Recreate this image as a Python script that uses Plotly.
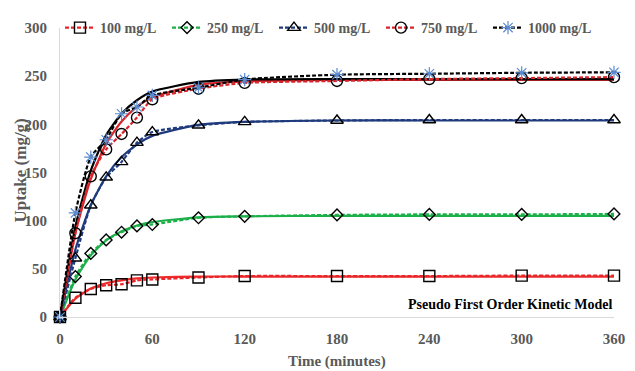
import plotly.graph_objects as go

time_min = [0, 10, 20, 30, 40, 50, 60, 90, 120, 180, 240, 300, 360]

# experimental uptake (mg/g)
exp_100 = [0, 20, 29, 33, 34, 38, 39, 41, 42.5, 42.5, 42.5, 43, 43]
exp_250 = [0, 42, 66, 80, 88, 94.5, 96, 103, 104.5, 106, 106.5, 106.5, 107]
exp_500 = [0, 61, 116, 145, 161, 181, 192, 199, 202.5, 204, 204.5, 204.5, 204.5]
exp_750 = [0, 87, 146, 174, 190, 207, 226, 237, 243, 245, 247, 248, 249]
exp_1000 = [0, 108, 166, 184, 211, 218, 230, 238, 246.5, 251.5, 252.5, 253.5, 254]

# pseudo first order model values read at the same times
fit_100 = [0, 19, 29.5, 35, 38, 40, 41, 42, 42, 42, 42, 42, 42]
fit_250 = [0, 39, 64, 79.5, 89, 95, 98.5, 103.5, 104.5, 105, 105, 105, 105]
fit_500 = [0, 70, 116, 146, 166, 179, 188, 199.5, 202.5, 204, 204, 204, 204]
fit_750 = [0, 87, 143, 180, 203, 218, 228, 241, 244.5, 246, 246, 246, 246]
fit_1000 = [0, 94, 152, 189, 211, 225, 234, 244, 246.5, 247, 247, 247, 247]

labels = ["100 mg/L", "250 mg/L", "500 mg/L", "750 mg/L", "1000 mg/L"]
x_ticks = [0, 60, 120, 180, 240, 300, 360]
y_ticks = [0, 50, 100, 150, 200, 250, 300]

exp_sets = [exp_100, exp_250, exp_500, exp_750, exp_1000]
fit_sets = [fit_100, fit_250, fit_500, fit_750, fit_1000]
line_colors = ["#E8262A", "#1DB04A", "#1F3B7D", "#D9262C", "#000000"]
fit_colors = ["#EE2A2A", "#1DB04A", "#1F3B7D", "#D9262C", "#000000"]
symbols = ["square-open", "diamond-open", "triangle-up-open", "circle-open", "asterisk-open"]
marker_colors = ["#000000", "#000000", "#000000", "#000000", "#5B8BD0"]
marker_sizes = [11, 9, 11, 11, 11]
marker_lw = [1.4, 1.4, 1.4, 1.4, 1.2]

fig = go.Figure()

for i in range(5):
    fig.add_trace(go.Scatter(
        x=time_min, y=fit_sets[i], mode="lines", showlegend=False,
        line=dict(color=fit_colors[i], width=2.2, shape="spline", smoothing=0.6),
        hoverinfo="skip", cliponaxis=False,
    ))

for i in range(5):
    fig.add_trace(go.Scatter(
        x=time_min, y=exp_sets[i], mode="lines+markers", name="<b>%s</b>" % labels[i],
        line=dict(color=line_colors[i], width=2.2, dash="4px,2px", shape="spline", smoothing=0.6),
        marker=dict(symbol=symbols[i], size=marker_sizes[i], color=marker_colors[i],
                    line=dict(width=marker_lw[i], color=marker_colors[i])),
        cliponaxis=False,
    ))

tick_font = dict(family="Liberation Serif", size=15, color="#595959")

fig.update_layout(
    width=635, height=371,
    margin=dict(l=60, r=21, t=23, b=54),
    paper_bgcolor="white", plot_bgcolor="white",
    font=dict(family="Liberation Serif", size=14, color="#595959"),
    showlegend=True,
    legend=dict(
        orientation="h", x=0.0, y=1.0, xanchor="left", yanchor="middle",
        font=dict(family="Liberation Serif", size=14, color="#595959"),
        bgcolor="rgba(255,255,255,1)", itemwidth=30, tracegroupgap=0,
        entrywidth=62, entrywidthmode="pixels",
    ),
    xaxis=dict(
        range=[0, 360], tickvals=x_ticks, ticktext=["<b>%d</b>" % v for v in x_ticks],
        tickfont=tick_font, showgrid=False, zeroline=False, ticklabelstandoff=8,
        showline=True, linecolor="#D9D9D9", linewidth=1, ticks="", automargin=False,
    ),
    yaxis=dict(
        range=[0, 300], tickvals=y_ticks, ticktext=["<b>%d</b>" % v for v in y_ticks],
        tickfont=tick_font, showgrid=False, zeroline=False, ticklabelstandoff=9,
        showline=True, linecolor="#D9D9D9", linewidth=1, ticks="", automargin=False,
    ),
    annotations=[
        dict(text="<b>Pseudo First Order Kinetic Model</b>", xref="paper", yref="paper",
             x=1.0, y=0.01, xanchor="right", yanchor="bottom", showarrow=False,
             font=dict(family="Liberation Serif", size=14, color="#000000")),
        dict(text="<b>Time (minutes)</b>", xref="paper", yref="paper",
             x=0.5, y=-0.153, xanchor="center", yanchor="middle", showarrow=False,
             font=dict(family="Liberation Serif", size=15, color="#595959")),
        dict(text="<b>Uptake (mg/g)</b>", xref="paper", yref="paper", textangle=-90,
             x=-0.072, y=0.507, xanchor="center", yanchor="middle", showarrow=False,
             font=dict(family="Liberation Serif", size=17, color="#595959")),
    ],
)

fig.write_html("out.html")
